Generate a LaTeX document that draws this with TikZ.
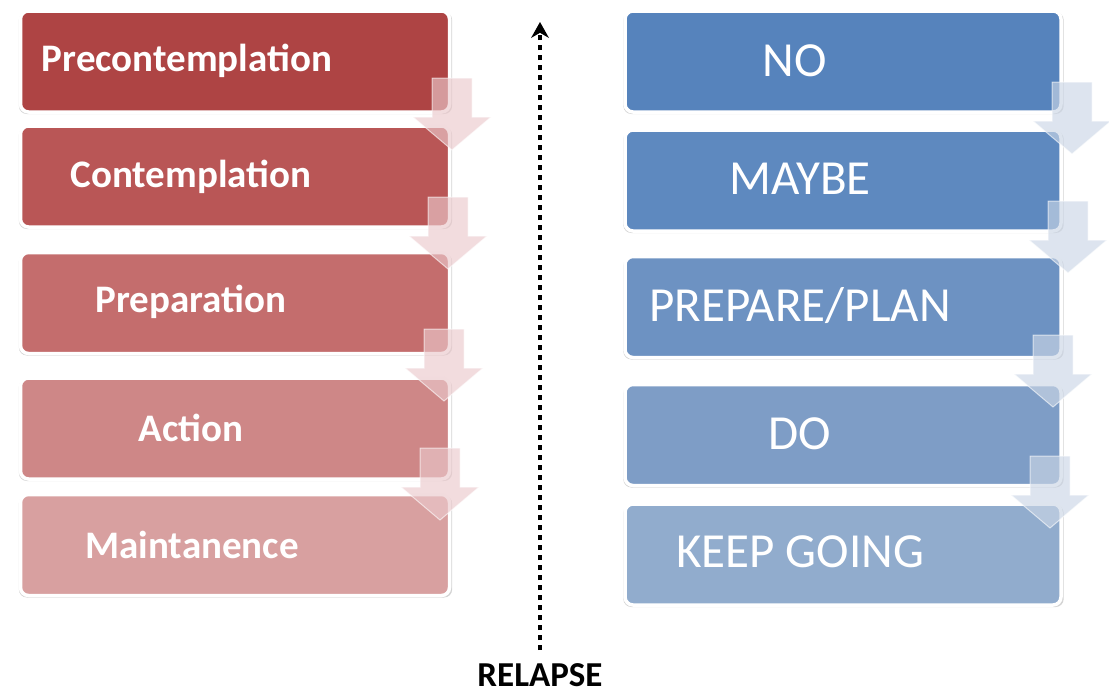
\documentclass[tikz,border=0pt]{standalone}
\usepackage{fontspec}
\setmainfont{Carlito}
\usetikzlibrary{shadows,arrows.meta}
\definecolor{redA}{HTML}{AE4444}
\definecolor{redB}{HTML}{B95656}
\definecolor{redC}{HTML}{C46D6D}
\definecolor{redD}{HTML}{CE8787}
\definecolor{redE}{HTML}{D8A0A0}
\definecolor{blueA}{HTML}{5683BC}
\definecolor{blueB}{HTML}{5E89BF}
\definecolor{blueC}{HTML}{6D92C2}
\definecolor{blueD}{HTML}{7E9DC6}
\definecolor{blueE}{HTML}{91ACCD}
\definecolor{pinkarr}{HTML}{EBC9CC}
\definecolor{bluearr}{HTML}{CBD6E6}
\begin{document}
\begin{tikzpicture}[x=1pt,y=-1pt]
	\tikzset{stage/.style = {draw=white, line width=3.5pt, rounded corners=8pt, minimum height=101pt,
			drop shadow={shadow xshift=.5pt, shadow yshift=-1.5pt, shadow scale=1.01, opacity=.35}},
		lstage/.style = {stage, minimum width=429pt},
		rstage/.style = {stage, minimum width=436pt},
		ltext/.style = {text=white, font=\fontsize{39}{45}\selectfont\bfseries},
		rtext/.style = {text=white, font=\fontsize{49}{55}\selectfont},
		down/.style = {fill opacity=.65, draw=white, draw opacity=.6, line width=1pt},
		downarr/.pic = {\path[pic actions] (-20,0) -- (20,0) -- (20,39) -- (39,39) -- (0,72)
			-- (-39,39) -- (-20,39) -- cycle;}}
	\useasboundingbox (0,0) rectangle (1109,696);
	% Stages of change
	\node[lstage, fill=redA] (pre) at (235,61.5) {};
	\node[lstage, fill=redB] (con) at (235,176.5) {};
	\node[lstage, fill=redC] (prep) at (235,303) {};
	\node[lstage, fill=redD] (act) at (235,428.5) {};
	\node[lstage, fill=redE] (main) at (235,545) {};
	\node[ltext] (pret) at (187,61) {Precontemplation};
	\node[ltext] (cont) at (191,177) {Contemplation};
	\node[ltext] (prept) at (191,302) {Preparation};
	\node[ltext] (actt) at (191,428) {Action};
	\node[ltext] (maint) at (192,545) {Maintanence};
	% Plain words
	\node[rstage, fill=blueA] (no) at (843,61.5) {};
	\node[rstage, fill=blueB] (maybe) at (843,180.5) {};
	\node[rstage, fill=blueC] (plan) at (843,307) {};
	\node[rstage, fill=blueD] (do) at (843,435) {};
	\node[rstage, fill=blueE] (keep) at (843,554.5) {};
	\node[rtext] (not) at (795,61) {NO};
	\node[rtext] (maybet) at (800,179) {MAYBE};
	\node[rtext] (plant) at (800,306) {PREPARE/PLAN};
	\node[rtext] (dot) at (800,434) {DO};
	\node[rtext] (keept) at (800,552) {KEEP GOING};
	% Down arrows
	\pic[down, fill=pinkarr] (la1) at (452,78) {downarr};
	\pic[down, fill=pinkarr] (la2) at (448,197) {downarr};
	\pic[down, fill=pinkarr] (la3) at (444,329) {downarr};
	\pic[down, fill=pinkarr] (la4) at (440,448) {downarr};
	\pic[down, fill=bluearr] (ra1) at (1072,82) {downarr};
	\pic[down, fill=bluearr] (ra2) at (1068,201) {downarr};
	\pic[down, fill=bluearr] (ra3) at (1053,335) {downarr};
	\pic[down, fill=bluearr] (ra4) at (1050,456) {downarr};
	% Relapse
	\node[font=\fontsize{35}{40}\selectfont\bfseries, anchor=base, inner sep=0pt, text depth=0pt] (relapse) at (540,686) {RELAPSE};
	\coordinate (top) at (540,22);
	\coordinate (bot) at (540,650);
	\draw[line width=4.5pt, dash pattern=on 5pt off 5pt, -{Stealth[length=16pt,width=18pt,line width=0pt]}]
		(bot) -- (top);
\end{tikzpicture}
\end{document}
